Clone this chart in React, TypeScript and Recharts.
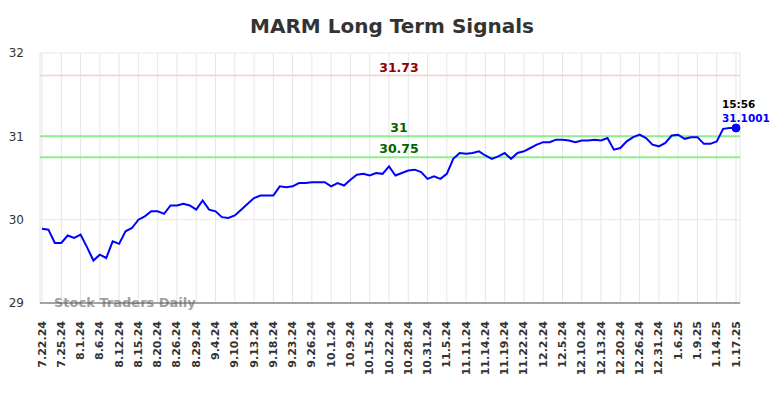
import React from "react";
import { LineChart, Line, XAxis, YAxis, CartesianGrid, ReferenceLine } from "recharts";

const dates = [
  "7.22.24","7.23.24","7.24.24","7.25.24","7.29.24","7.30.24","8.1.24","8.2.24","8.5.24","8.6.24",
  "8.7.24","8.9.24","8.12.24","8.13.24","8.14.24","8.15.24","8.16.24","8.19.24","8.20.24","8.21.24",
  "8.23.24","8.26.24","8.27.24","8.28.24","8.29.24","8.30.24","9.3.24","9.4.24","9.5.24","9.9.24",
  "9.10.24","9.11.24","9.12.24","9.13.24","9.16.24","9.17.24","9.18.24","9.19.24","9.20.24","9.23.24",
  "9.24.24","9.25.24","9.26.24","9.27.24","9.30.24","10.1.24","10.3.24","10.7.24","10.9.24","10.11.24",
  "10.14.24","10.15.24","10.17.24","10.21.24","10.22.24","10.24.24","10.25.24","10.28.24","10.29.24","10.30.24",
  "10.31.24","11.1.24","11.4.24","11.5.24","11.7.24","11.8.24","11.11.24","11.12.24","11.13.24","11.14.24",
  "11.15.24","11.18.24","11.19.24","11.20.24","11.21.24","11.22.24","11.26.24","11.27.24","12.2.24","12.3.24",
  "12.4.24","12.5.24","12.6.24","12.9.24","12.10.24","12.11.24","12.12.24","12.13.24","12.17.24","12.18.24",
  "12.20.24","12.23.24","12.24.24","12.26.24","12.27.24","12.30.24","12.31.24","1.2.25","1.3.25","1.6.25",
  "1.7.25","1.8.25","1.9.25","1.10.25","1.13.25","1.14.25","1.15.25","1.16.25","1.17.25",
];

const prices = [
  29.89, 29.88, 29.72, 29.72, 29.81, 29.78, 29.82, 29.67, 29.51, 29.58,
  29.54, 29.74, 29.71, 29.86, 29.9, 30.0, 30.04, 30.1, 30.1, 30.07,
  30.17, 30.17, 30.19, 30.17, 30.12, 30.23, 30.12, 30.1, 30.03, 30.02,
  30.05, 30.12, 30.19, 30.26, 30.29, 30.29, 30.29, 30.4, 30.39, 30.4,
  30.44, 30.44, 30.45, 30.45, 30.45, 30.4, 30.44, 30.41, 30.48, 30.54,
  30.55, 30.53, 30.56, 30.55, 30.64, 30.53, 30.56, 30.59, 30.6, 30.57,
  30.49, 30.52, 30.49, 30.55, 30.73, 30.8, 30.79, 30.8, 30.82, 30.77,
  30.73, 30.76, 30.8, 30.73, 30.8, 30.82, 30.86, 30.9, 30.93, 30.93,
  30.96, 30.96, 30.95, 30.93, 30.95, 30.95, 30.96, 30.95, 30.98, 30.84,
  30.86, 30.94, 30.99, 31.02, 30.98, 30.9, 30.88, 30.92, 31.01, 31.02,
  30.97, 30.99, 30.99, 30.91, 30.91, 30.94, 31.09, 31.1, 31.1001,
];

const yTicks = [29, 30, 31, 32];
const resistance = 31.73;
const supports = [31, 30.75];
const lastTime = "15:56";
const title = "MARM Long Term Signals";
const watermark = "Stock Traders Daily";

const data = dates.map((d, i) => ({ date: d, price: prices[i] }));
const tickDates = dates.filter((_, i) => i % 3 === 0);

const FONT = "'DejaVu Sans', sans-serif";

const XTick = (props: any) => {
  const { x, y, payload } = props;
  return (
    <text
      x={x}
      y={y}
      transform={`rotate(-90, ${x}, ${y})`}
      textAnchor="end"
      dominantBaseline="central"
      fontFamily={FONT}
      fontSize={11}
      fontWeight="bold"
      fill="#333"
    >
      {payload.value}
    </text>
  );
};

const makeRefLabel = (text: string, color: string) => (props: any) => {
  const vb = props.viewBox;
  return (
    <text
      x={vb.x + vb.width / 2 + 9}
      y={vb.y - 4}
      textAnchor="middle"
      fontFamily={FONT}
      fontSize={12.5}
      fontWeight="bold"
      fill={color}
    >
      {text}
    </text>
  );
};

const LastDot = (props: any) => {
  const { cx, cy, index, value } = props;
  if (index !== prices.length - 1) return <g key={`d${index}`} />;
  return (
    <g key={`d${index}`}>
      <circle cx={cx} cy={cy} r={4} fill="#0000ff" stroke="#0000ff" />
      <text x={cx - 14} y={cy - 20} fontFamily={FONT} fontSize={10.5} fontWeight="bold" fill="#000">
        {lastTime}
      </text>
      <text x={cx - 14} y={cy - 6} fontFamily={FONT} fontSize={10.5} fontWeight="bold" fill="#0000ff">
        {value}
      </text>
    </g>
  );
};

export default function App() {
  return (
    <div style={{ position: "fixed", left: 0, top: 0, width: 784, height: 398, background: "#fff" }}>
      <LineChart
        width={784}
        height={398}
        data={data}
        margin={{ top: 53, right: 44, bottom: 0, left: 0 }}
      >
        <text
          x={392}
          y={33}
          textAnchor="middle"
          fontFamily={FONT}
          fontSize={20}
          fontWeight="bold"
          fill="#333"
        >
          {title}
        </text>
        <CartesianGrid stroke="#e6e6e6" strokeWidth={1} />
        <XAxis
          dataKey="date"
          ticks={tickDates}
          interval={0}
          padding={{ left: 2, right: 4 }}
          height={95}
          tickSize={0}
          tickMargin={18}
          tickLine={false}
          axisLine={{ stroke: "#555", strokeWidth: 1 }}
          tick={<XTick />}
        />
        <YAxis
          domain={[29, 32]}
          ticks={yTicks}
          width={40}
          tickSize={0}
          tickMargin={16}
          tickLine={false}
          axisLine={false}
          tick={{ fontFamily: FONT, fontSize: 12, fill: "#333" }}
        />
        <ReferenceLine
          y={resistance}
          stroke="#ffcccc"
          strokeWidth={1.5}
          label={makeRefLabel(String(resistance), "#8b0000")}
        />
        {supports.map((s) => (
          <ReferenceLine
            key={s}
            y={s}
            stroke="#90ee90"
            strokeWidth={2}
            label={makeRefLabel(String(s), "#006400")}
          />
        ))}
        <text
          x={54}
          y={307}
          fontFamily={FONT}
          fontSize={13}
          fontWeight="bold"
          fill="#a0a0a0"
        >
          {watermark}
        </text>
        <Line
          type="linear"
          dataKey="price"
          stroke="#0000ff"
          strokeWidth={2}
          dot={LastDot}
          activeDot={false}
          isAnimationActive={false}
        />
      </LineChart>
    </div>
  );
}
